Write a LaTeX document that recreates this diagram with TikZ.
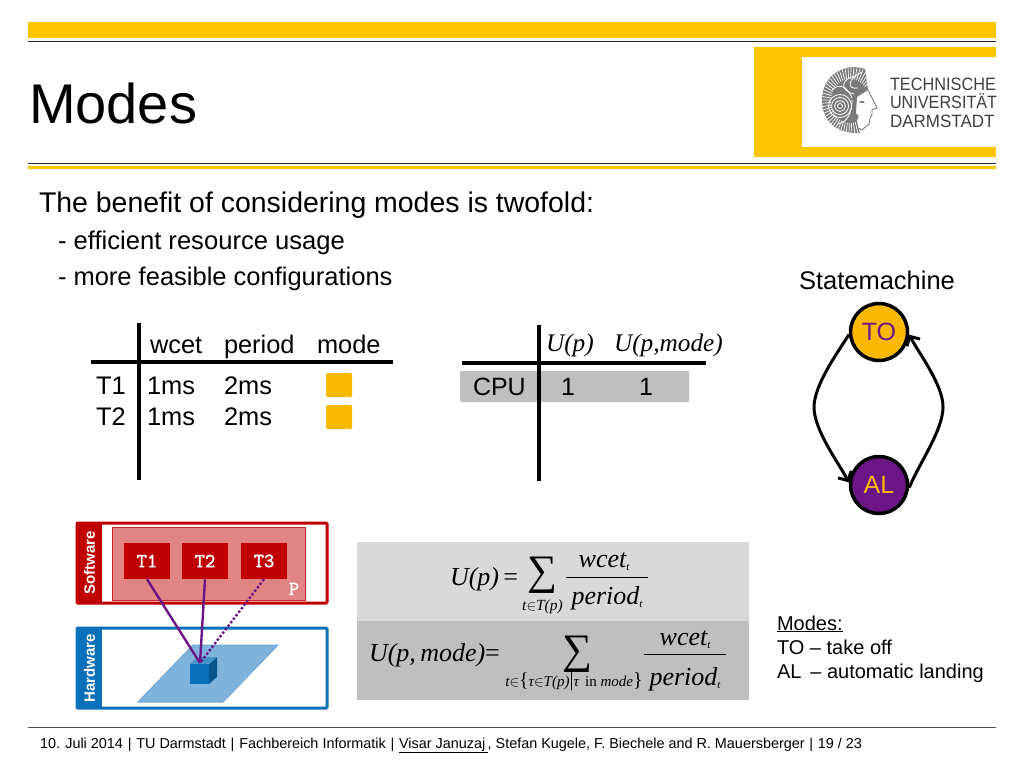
\documentclass[tikz,border=0pt]{standalone}
\usepackage{fontspec}
\setmainfont{Liberation Sans}
\newfontfamily\serifx{Liberation Serif}
\newfontfamily\monob[FakeBold=2.2]{Latin Modern Mono}
\usetikzlibrary{arrows.meta}
\newcommand\fs[1]{\fontsize{#1}{#1}\selectfont}
\newcommand\mth[1]{{\serifx\itshape #1}}
\newcommand\ele{$\in$}
\definecolor{tuyellow}{HTML}{FDC600}
\definecolor{orangeb}{HTML}{FBB800}
\definecolor{tured}{HTML}{C00000}
\definecolor{pinkp}{HTML}{E08484}
\definecolor{tublue}{HTML}{0A70BA}
\definecolor{lightb}{HTML}{80B3DB}
\definecolor{purp}{HTML}{6C1586}
\definecolor{boxa}{HTML}{D9D9D9}
\definecolor{boxb}{HTML}{BFBFBF}
\definecolor{logog}{HTML}{7A7A7A}
\tikzset{
  txt/.style={anchor=base west,inner sep=0pt,outer sep=0pt,text=black},
  ctr/.style={anchor=base,inner sep=0pt,outer sep=0pt,text=black},
  tabline/.style={line width=4pt,black},
  modesq/.style={fill=orangeb,rounded corners=1.5pt,draw=none},
  taskbox/.style={fill=tured,minimum width=46pt,minimum height=36pt,inner sep=0pt,text=white,font=\monob\fs{20}},
  vert/.style={rotate=90,inner sep=0pt,text=white,font=\bfseries\fs{15}},
  state/.style={circle,draw=black,line width=3.5pt,minimum size=57pt,inner sep=0pt,font=\fs{25}},
  trans/.style={line width=3pt,black,-{Straight Barb[length=7pt,width=15pt,line width=3pt]}},
  map/.style={line width=2.4pt,purp},
  fracline/.style={line width=1pt,black},
}
\begin{document}
\begin{tikzpicture}[x=1pt,y=-1pt]
\useasboundingbox (0,0) rectangle (1024,768);
\fill[white] (0,0) rectangle (1024,768);
% header
\fill[tuyellow] (28,22) rectangle (996,38);
\draw[line width=1.6pt,black!85] (28,41.5) -- (996,41.5);
\draw[line width=1pt,black!85] (28,163.5) -- (996,163.5);
\fill[tuyellow] (28,166) rectangle (996,169);
\fill[tuyellow] (754,47) rectangle (996,157);
\fill[white] (802,57) rectangle (1012,147);
\node[txt,font=\fs{56}] (title) at (29,123) {Modes};
% logo head
\begin{scope}
\clip (865,69) .. controls (845,62) and (822,75) .. (822,100) .. controls (822,120) and (835,134) .. (860,133) -- (858,127) -- (856,112) -- (857,97) -- (868,90) -- cycle;
\fill[logog] (815,60) rectangle (880,140);
\foreach \a in {40,46,...,300}
  \draw[white,line width=.7pt] ({850+19*cos(\a)},{101-22*sin(\a)}) -- ({850+30*cos(\a)},{101-35*sin(\a)});
\foreach \r in {2.5,5.5,8.5,11.5}
  \draw[white,line width=.8pt] (840,106) circle (\r);
\draw[white,line width=.8pt] (862,72) .. controls (848,78) and (846,90) .. (858,88);
\draw[white,line width=.8pt] (856,76) .. controls (842,78) and (838,90) .. (854,94);
\draw[white,line width=.8pt] (832,90) .. controls (840,82) and (848,88) .. (852,98);
\draw[white,line width=.8pt] (852,100) .. controls (852,112) and (848,122) .. (838,124);
\end{scope}
\draw[logog,line width=.9pt] (868,90) -- (877,108) -- (872,110) -- (872,115) -- (870,118) -- (869,124) -- (862,130) -- (858,128);
\fill[logog] (862,102) ellipse (2.6 and 1);
\fill[logog] (855,117) circle (3.5);
\node[txt,font=\fs{16.3},text=black!75] (lg1) at (890,90) {\scalebox{1}[1.1]{TECHNISCHE}};
\node[txt,font=\fs{16.2},text=black!75] (lg2) at (890,108.5) {\scalebox{1}[1.1]{UNIVERSITÄT}};
\node[txt,font=\fs{17},text=black!75] (lg3) at (890,127) {\scalebox{1}[1.05]{DARMSTADT}};
% intro
\node[txt,font=\fs{28.45}] (intro) at (39,212) {The benefit of considering modes is twofold:};
\node[txt,font=\fs{25.6}] (b1) at (58,249) {- efficient resource usage};
\node[txt,font=\fs{25.5}] (b2) at (58,285) {- more feasible configurations};
\node[txt,font=\fs{25.5}] (sm) at (799,289.5) {Statemachine};
% table 1
\draw[tabline] (139,323) -- (139,480);
\draw[tabline] (91,362) -- (393,362);
\node[txt,font=\fs{25.4}] (h1) at (150,353) {wcet};
\node[txt,font=\fs{25.4}] (h2) at (224,353) {period};
\node[txt,font=\fs{25.4}] (h3) at (317,353) {mode};
\node[txt,font=\fs{25.4}] (t1) at (96,394) {T1};
\node[txt,font=\fs{25.4}] (t2) at (96,425) {T2};
\node[txt,font=\fs{25.4}] (w1) at (147,394) {1ms};
\node[txt,font=\fs{25.4}] (w2) at (147,425) {1ms};
\node[txt,font=\fs{25.4}] (p1) at (224,394) {2ms};
\node[txt,font=\fs{25.4}] (p2) at (224,425) {2ms};
\fill[modesq] (326,373) rectangle (352,397);
\fill[modesq] (326,405) rectangle (352,429);
% table 2
\fill[boxb,rounded corners=1pt] (460,371) rectangle (689,402);
\draw[tabline] (539,325) -- (539,481);
\draw[tabline] (462,363) -- (706,363);
\node[txt,font=\fs{25.3}] (up) at (546,351) {\mth{U(p)}};
\node[txt,font=\fs{25.3}] (upm) at (614,351) {\mth{U(p,mode)}};
\node[txt,font=\fs{25}] (cpu) at (473,395) {CPU};
\node[ctr,font=\fs{25}] (c1) at (568,395) {1};
\node[ctr,font=\fs{25}] (c2) at (646,395) {1};
% state machine
\node[state,fill=orangeb,text=purp] (to) at (879,332) {TO};
\node[state,fill=purp,text=orangeb] (al) at (879,485) {AL};
\draw[trans] (to.185) .. controls (838,352) and (814,385) .. (814,407) .. controls (814,430) and (838,462) .. (al.175);
\draw[trans] (al.-5) .. controls (920,462) and (943,430) .. (943,407) .. controls (943,385) and (920,355) .. (to.-5);
% software/hardware
\draw[tured,line width=3pt,rounded corners=1pt,fill=white] (77,523) rectangle (327,603);
\fill[tured] (76,522) rectangle (102,604);
\node[vert] (sw) at (89.5,563) {Software};
\draw[tured!85!white,line width=1pt,fill=pinkp] (112,527) rectangle (305,600);
\node[taskbox] (k1) at (147,561) {T1};
\node[taskbox] (k2) at (205,561) {T2};
\node[taskbox] (k3) at (264,561) {T3};
\node[anchor=base,inner sep=0pt,text=white!90!pinkp,font=\monob\fs{20}] (pp) at (294,595) {P};
\draw[tublue,line width=3pt,rounded corners=1pt,fill=white] (77,628) rectangle (327,708);
\fill[tublue] (76,627) rectangle (102,709);
\node[vert] (hw) at (89.5,668) {Hardware};
\draw[lightb!85!tublue,line width=1pt,fill=lightb] (138,702) -- (193,645) -- (278,645) -- (223,702) -- cycle;
\fill[tublue!75!black] (209,664) -- (217,657) -- (217,677) -- (209,684) -- cycle;
\fill[tublue!75] (190,664) -- (198,657) -- (217,657) -- (209,664) -- cycle;
\fill[tublue] (190,664) rectangle (209,684);
\coordinate (cube) at (200,663);
\draw[map] (k1.south) -- (cube);
\draw[map] (k2.south) -- (cube);
\draw[map,dotted] (k3.south) -- (cube);
% formula boxes
\fill[boxa] (357,542) rectangle (749,621);
\fill[boxb] (357,621) rectangle (749,700);
\node[txt,font=\fs{26}] (f1a) at (450,585) {\mth{U(p)}{\serifx\,=}};
\node[anchor=center,inner sep=0pt,font=\serifx\fs{42}] (s1) at (542,575) {∑};
\node[ctr,font=\fs{15.5}] (l1) at (542.5,610) {\mth{t}\ele\mth{T(p)}};
\node[ctr,font=\fs{26}] (n1) at (604,567) {\mth{wcet}\raisebox{-3pt}{\fs{11}\mth{t}}};
\node[ctr,font=\fs{26}] (d1) at (607,604) {\mth{period}\raisebox{-3pt}{\fs{11}\mth{t}}};
\coordinate (r1a) at (566,577); \coordinate (r1b) at (648,577);
\draw[fracline] (r1a) -- (r1b);
\node[txt,font=\fs{26}] (f2a) at (369,661) {\mth{U(p,\,mode)}{\serifx=}};
\node[anchor=center,inner sep=0pt,font=\serifx\fs{42}] (s2) at (577,654) {∑};
\node[ctr,font=\fs{15}] (l2) at (574,686) {\mth{t}\ele{\serifx\fs{20}\{}\mth{τ}\ele\mth{T(p)}{\serifx\fs{20}|}\mth{τ}{\serifx\ \,in\ }\mth{mode}{\serifx\fs{20}\}}};
\node[ctr,font=\fs{26}] (n2) at (685,645) {\mth{wcet}\raisebox{-3pt}{\fs{11}\mth{t}}};
\node[ctr,font=\fs{26}] (d2) at (685,685) {\mth{period}\raisebox{-3pt}{\fs{11}\mth{t}}};
\coordinate (r2a) at (644,654); \coordinate (r2b) at (726,654);
\draw[fracline] (r2a) -- (r2b);
% legend
\node[txt,font=\fs{20}] (m0) at (777,630) {\underline{Modes:}};
\node[txt,font=\fs{20}] (m1) at (777,654) {TO – take off};
\node[txt,font=\fs{20}] (m2) at (777,678) {AL\, – automatic landing};
% footer
\draw[line width=.8pt,black!70] (28,727) -- (996,727);
\node[txt,font=\fs{14.4}] (foot) at (40,748) {10. Juli 2014\,\,|\,\,TU Darmstadt\,\,|\,\,Fachbereich Informatik\,\,|\,\,\underline{Visar Januzaj\,}, Stefan Kugele, F. Biechele and R. Mauersberger\,\,|\,\,19 / 23};
\end{tikzpicture}
\end{document}
